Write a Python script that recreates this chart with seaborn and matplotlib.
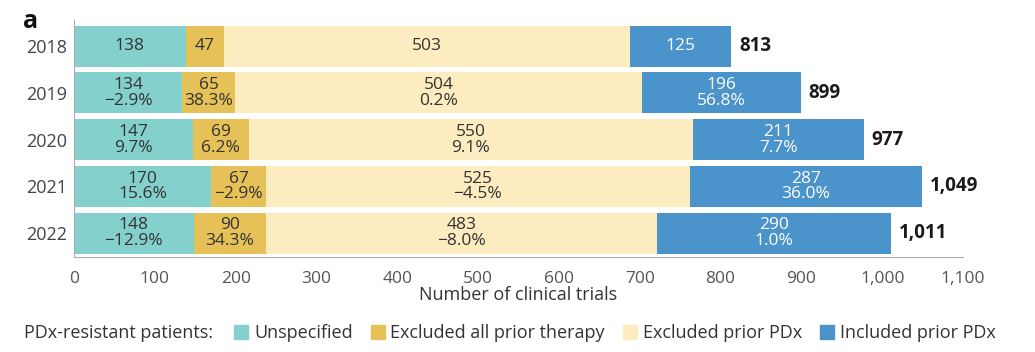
import pandas as pd
import numpy as np
import matplotlib
matplotlib.use("Agg")
import matplotlib.pyplot as plt
import seaborn as sns

# data
years = ["2018", "2019", "2020", "2021", "2022"]
unspecified = [138, 134, 147, 170, 148]
excl_all_therapy = [47, 65, 69, 67, 90]
excl_prior_pdx = [503, 504, 550, 525, 483]
incl_prior_pdx = [125, 196, 211, 287, 290]
totals = [813, 899, 977, 1049, 1011]

pct_unspecified = ["", "\u22122.9%", "9.7%", "15.6%", "\u221212.9%"]
pct_excl_all = ["", "38.3%", "6.2%", "\u22122.9%", "34.3%"]
pct_excl_pdx = ["", "0.2%", "9.1%", "\u22124.5%", "\u22128.0%"]
pct_incl_pdx = ["", "56.8%", "7.7%", "36.0%", "1.0%"]

series_names = ["Unspecified", "Excluded all prior therapy",
                "Excluded prior PDx", "Included prior PDx"]
colors = ["#83d0cd", "#e6c158", "#fdecc0", "#4b93cb"]

df = pd.DataFrame({
    "year": years,
    "s1": unspecified,
    "s2": excl_all_therapy,
    "s3": excl_prior_pdx,
    "s4": incl_prior_pdx,
})
df["c1"] = df["s1"]
df["c2"] = df["c1"] + df["s2"]
df["c3"] = df["c2"] + df["s3"]
df["c4"] = df["c3"] + df["s4"]

sns.set_theme(style="white")
plt.rcParams["font.family"] = ["Open Sans", "DejaVu Sans"]

fig = plt.figure(figsize=(10.35, 3.52), dpi=100)
ax = fig.add_axes([74 / 1035, 1 - 257 / 352, 889 / 1035, (257 - 20) / 352])

# stacked bars: draw cumulative sums from longest to shortest
for col, c in zip(["c4", "c3", "c2", "c1"], colors[::-1]):
    sns.barplot(data=df, x=col, y="year", color=c, width=0.88,
                saturation=1, linewidth=0, ax=ax)

text_dark = "#333333"
segments = [
    (df["s1"], df["c1"] - df["s1"], pct_unspecified, text_dark),
    (df["s2"], df["c2"] - df["s2"], pct_excl_all, text_dark),
    (df["s3"], df["c3"] - df["s3"], pct_excl_pdx, text_dark),
    (df["s4"], df["c4"] - df["s4"], pct_incl_pdx, "white"),
]
for vals, starts, pcts, tc in segments:
    for i, (v, s, p) in enumerate(zip(vals, starts, pcts)):
        label = f"{v}" if p == "" else f"{v}\n{p}"
        ax.text(s + v / 2, i, label, ha="center", va="center",
                fontsize=12.5, color=tc, linespacing=0.98)

for i, t in enumerate(totals):
    ax.text(t + 10, i, f"{t:,}", ha="left", va="center",
            fontsize=13.5, fontweight="bold", color="#1a1a1a")

ax.set_xlim(0, 1100)
ax.set_ylim(4.51, -0.56)
xt = list(range(0, 1101, 100))
ax.set_xticks(xt)
ax.set_xticklabels([f"{v:,}" for v in xt], fontsize=12.5, color="#555555")
ax.tick_params(axis="x", direction="out", length=8, width=0.8,
               color="#aaaaaa", pad=2)
ax.tick_params(axis="y", length=0, labelsize=13, labelcolor="#444444", pad=5)
ax.set_xlabel("Number of clinical trials", fontsize=13, color="#333333",
              labelpad=-1)
ax.set_ylabel("")
for side in ["top", "right"]:
    ax.spines[side].set_visible(False)
for side in ["left", "bottom"]:
    ax.spines[side].set_color("#aaaaaa")
    ax.spines[side].set_linewidth(0.8)

fig.text(23 / 1035, 1 - 21 / 352, "a", fontsize=18, fontweight="bold",
         va="center", ha="left", color="#111111")

fig.text(24 / 1035, 1 - 333 / 352, "PDx-resistant patients:", fontsize=13,
         va="center", ha="left", color="#333333")
handles = [plt.Rectangle((0, 0), 1, 1, color=c) for c in colors]
fig.legend(handles, series_names, loc="center left",
           bbox_to_anchor=(225 / 1035, 1 - 333 / 352), ncol=4, frameon=False,
           fontsize=13, handlelength=0.8, handleheight=0.8,
           handletextpad=0.3, columnspacing=1.0, borderpad=0,
           labelcolor="#333333")

fig.savefig("out.png", dpi=100)
